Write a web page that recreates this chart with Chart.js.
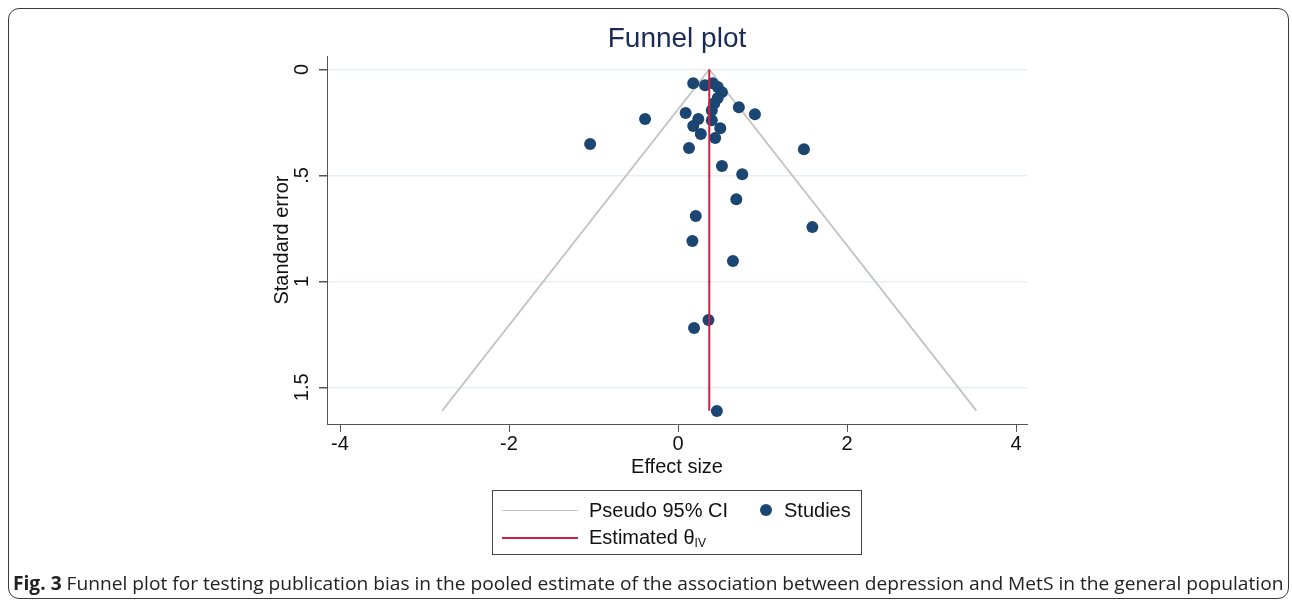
<!DOCTYPE html>
<html>
<head>
<meta charset="utf-8">
<script src="https://cdn.jsdelivr.net/npm/chart.js@4"></script>
<style>
  body { margin: 0; background: #fff; }
  #wrap { position: relative; width: 1292px; height: 603px; overflow: hidden; }
  #frame { position: absolute; left: 8px; top: 8px; width: 1281px; height: 591px;
           border: 1.5px solid #3a3a3a; border-radius: 11px; box-sizing: border-box; }
  #box { position: absolute; left: 0; top: 0; width: 1292px; height: 603px; }
  #legend { position: absolute; left: 492px; top: 490px; width: 370px; height: 65px;
            border: 1px solid #444; box-sizing: border-box;
            font-family: "Liberation Sans", Arial, sans-serif; font-size: 20px; color: #111; }
  #legend .it { position: absolute; white-space: nowrap; line-height: 20px; }
  #legend .ln { position: absolute; height: 0; }
  #legend .dot { position: absolute; border-radius: 50%; }
  #legend sub { font-size: 12px; vertical-align: -3px; }
  #caption { position: absolute; left: 13px; top: 570px; white-space: nowrap;
             font-family: "Open Sans", sans-serif; font-size: 19px; color: #222;
             transform-origin: 0 0; }
</style>
</head>
<body>
<div id="wrap">
  <div id="frame"></div>
  <div id="box"><canvas id="funnel"></canvas></div>
  <div id="legend"></div>
  <div id="caption"><b>Fig. 3</b> Funnel plot for testing publication bias in the pooled estimate of the association between depression and MetS in the general population</div>
</div>
<script>
// Studien
const effect = [0.18, 0.32, 0.41, 0.47, 0.52, 0.47, 0.43, 0.40, 0.40, 0.72, 0.91,
                0.09, 0.24, 0.18, 0.50, 0.27, 0.44, -0.39, -1.04, 0.13, 1.49, 0.52,
                0.76, 0.69, 0.21, 1.59, 0.17, 0.65, 0.36, 0.19, 0.46];
const stdErr = [0.065, 0.074, 0.065, 0.083, 0.107, 0.135, 0.159, 0.192, 0.24, 0.178, 0.211,
                0.206, 0.234, 0.267, 0.277, 0.305, 0.324, 0.234, 0.352, 0.371, 0.376, 0.456,
                0.494, 0.612, 0.692, 0.744, 0.81, 0.904, 1.182, 1.22, 1.612];

// Pseudo 95% CI und Schaetzer
const ciX = [-2.79, 0.37, 3.53];
const ciSE = [1.61, 0, 1.61];
const thetaX = [0.37, 0.37];
const thetaSE = [0, 1.61];

// Achsen
const xTicks = [-4, -2, 0, 2, 4];
const yTicks = [0, 0.5, 1, 1.5];

const pts = (xs, ys) => xs.map((x, i) => ({ x: x, y: ys[i] }));
const font = "'Liberation Sans', Arial, sans-serif";
const axisCol = '#555';

const chart = new Chart(document.getElementById('funnel'), {
  type: 'scatter',
  data: {
    datasets: [
      {
        label: 'Estimated θIV',
        data: pts(thetaX, thetaSE),
        showLine: true, pointRadius: 0, borderColor: '#cf1f45', borderWidth: 2, order: 0
      },
      {
        label: 'Studies',
        data: pts(effect, stdErr),
        pointRadius: 6, pointHoverRadius: 6, backgroundColor: '#1b4672', borderWidth: 0, order: 1
      },
      {
        label: 'Pseudo 95% CI',
        data: pts(ciX, ciSE),
        showLine: true, pointRadius: 0, borderColor: '#c2c2c2', borderWidth: 1.7, order: 2
      }
    ]
  },
  options: {
    responsive: true,
    maintainAspectRatio: false,
    animation: false,
    layout: { padding: { left: 270, right: 265, top: 0, bottom: 124 } },
    plugins: {
      legend: { display: false },
      tooltip: { enabled: false },
      title: {
        display: true,
        text: 'Funnel plot',
        fullSize: false,
        color: '#1c2b55',
        font: { family: font, size: 28, weight: 'normal' },
        padding: { top: 22.5, bottom: 0 }
      }
    },
    scales: {
      x: {
        type: 'linear', min: -4.154, max: 4.13,
        afterBuildTicks: s => { s.ticks = xTicks.map(v => ({ value: v })); },
        afterFit: s => { s.height = 55; },
        border: { color: axisCol, width: 1 },
        grid: { drawOnChartArea: false, drawTicks: true, tickLength: 8, tickColor: axisCol },
        ticks: { color: '#111', font: { family: font, size: 20 }, padding: 0 },
        title: { display: true, text: 'Effect size', color: '#111',
                 font: { family: font, size: 20 }, padding: 0 }
      },
      y: {
        type: 'linear', reverse: true, min: -0.063, max: 1.673,
        afterBuildTicks: s => { s.ticks = yTicks.map(v => ({ value: v })); },
        afterFit: s => { s.width = 57; },
        border: { color: axisCol, width: 1 },
        grid: { color: '#e6eff4', lineWidth: 1.5, drawTicks: true, tickLength: 8, tickColor: axisCol },
        ticks: {
          color: '#111', font: { family: font, size: 20 },
          minRotation: 90, maxRotation: 90, crossAlign: 'center', padding: 3,
          callback: v => String(v).replace(/^0\./, '.')
        },
        title: { display: true, text: 'Standard error', color: '#111',
                 font: { family: font, size: 20 }, padding: 0 }
      }
    }
  }
});

// Legende im Stata-Stil
const ds = chart.data.datasets;
const lg = document.getElementById('legend');
lg.innerHTML =
  '<div class="ln" style="left:9px;top:19px;width:76px;border-top:1.7px solid ' + ds[2].borderColor + '"></div>' +
  '<div class="it" style="left:96px;top:9px">' + ds[2].label + '</div>' +
  '<div class="dot" style="left:267px;top:13px;width:12px;height:12px;background:' + ds[1].backgroundColor + '"></div>' +
  '<div class="it" style="left:291px;top:9px">' + ds[1].label + '</div>' +
  '<div class="ln" style="left:9px;top:46px;width:76px;border-top:2px solid ' + ds[0].borderColor + '"></div>' +
  '<div class="it" style="left:96px;top:36px">' + ds[0].label.replace('IV', '<sub>IV</sub>') + '</div>';

// Bildunterschrift auf Breite bringen
const cap = document.getElementById('caption');
cap.style.transform = 'scaleX(' + (1270 / cap.offsetWidth) + ')';
</script>
</body>
</html>
